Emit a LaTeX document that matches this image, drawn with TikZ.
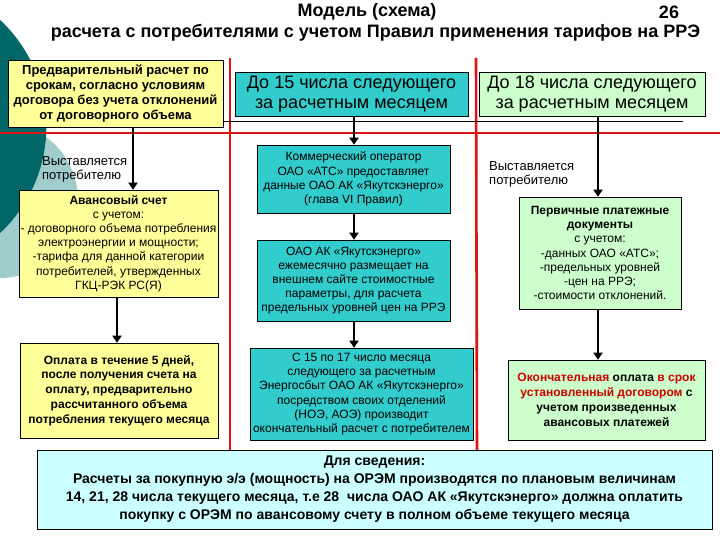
\documentclass[tikz,border=0pt]{standalone}
\usepackage{fontspec}
\setmainfont{Liberation Sans}
\usetikzlibrary{arrows.meta}
\definecolor{darkteal}{RGB}{0,102,102}
\definecolor{lightteal}{RGB}{160,204,204}
\definecolor{boxyellow}{RGB}{255,255,153}
\definecolor{boxteal}{RGB}{51,204,204}
\definecolor{boxgreen}{RGB}{204,255,204}
\definecolor{boxcyan}{RGB}{204,255,255}
\definecolor{linered}{RGB}{220,20,20}
\definecolor{textred}{RGB}{204,0,0}
\begin{document}
\begin{tikzpicture}[x=1pt,y=-1pt,
  box/.style={draw=black, line width=0.6pt, inner sep=0pt, align=center, anchor=center},
  ybox/.style={box, fill=boxyellow},
  tbox/.style={box, fill=boxteal},
  gbox/.style={box, fill=boxgreen},
  cbox/.style={box, fill=boxcyan},
  arr/.style={line width=2.6pt, -{Triangle[length=7pt,width=9pt]}},
  redline/.style={draw=linered, line width=2.6pt},
  small/.style={font=\fontsize{12}{14.2}\selectfont},
  smallb/.style={font=\fontsize{12}{14.8}\selectfont\bfseries},
  label/.style={font=\fontsize{13}{14}\selectfont, align=left, anchor=north west, inner sep=0pt},
  titlef/.style={inner sep=0pt, font=\fontsize{18}{20}\selectfont\bfseries}
]
\useasboundingbox (0,0) rectangle (720,540);
\fill[white] (0,0) rectangle (720,540);
% background circles
\begin{scope}
\clip (0,0) rectangle (720,540);
\fill[lightteal] (0,200) circle (78);
\fill[darkteal] (-99.7,126.5) circle (146);
\end{scope}
% title
\node[titlef] (t1) at (367,12) {Модель (схема)};
\node[titlef] (t26) at (669,12) {26};
\node[titlef] (t2) at (375.5,33) {расчета с потребителями с учетом Правил применения тарифов на РРЭ};
% red lines
\coordinate (rl1) at (0,133);
\coordinate (rl2) at (720,133);
\coordinate (rv1a) at (230,58);
\coordinate (rv1b) at (230,452);
\coordinate (rv2a) at (476,58);
\coordinate (rv2b) at (477,452);
\draw[redline] (rl1) -- (rl2);
\draw[redline] (rv1a) -- (rv1b);
\draw[redline] (rv2a) -- (rv2b);
% boxes
\node[ybox, minimum width=215, minimum height=67, font=\fontsize{13}{15}\selectfont\bfseries] (box1) at (115.5,93.5)
  {Предварительный расчет по\\срокам, согласно условиям\\договора без учета отклонений\\от договорного объема};
\coordinate (thinend) at (683,121);
\draw[line width=0.6pt] (box1.east |- thinend) -- (thinend);
\node[tbox, minimum width=233, minimum height=44, font=\fontsize{18}{20}\selectfont] (d15) at (351.5,94)
  {До 15 числа следующего\\за расчетным месяцем};
\node[gbox, minimum width=226, minimum height=44, font=\fontsize{18}{20}\selectfont] (d18) at (592,94)
  {До 18 числа следующего\\за расчетным месяцем};
\node[ybox, minimum width=199, minimum height=107, small] (avans) at (118.5,243.5)
  {\textbf{Авансовый счет}\\с учетом:\\- договорного объема потребления\\электроэнергии и мощности;\\-тарифа для данной категории\\потребителей, утвержденных\\ГКЦ-РЭК РС(Я)};
\node[ybox, minimum width=198, minimum height=95, smallb] (oplata) at (119,390.5)
  {Оплата в течение 5 дней,\\после получения счета на\\оплату, предварительно\\рассчитанного объема\\потребления текущего месяца};
\node[tbox, minimum width=193, minimum height=68, small] (komm) at (353.5,179)
  {Коммерческий оператор\\ОАО «АТС» предоставляет\\данные ОАО АК «Якутскэнерго»\\(глава VI Правил)};
\node[tbox, minimum width=193, minimum height=81, small] (oao) at (353.5,280.5)
  {ОАО АК «Якутскэнерго»\\ежемесячно размещает на\\внешнем сайте стоимостные\\параметры, для расчета\\предельных уровней цен на РРЭ};
\node[tbox, minimum width=223, minimum height=92, small] (c15) at (361.5,394)
  {С 15 по 17 число месяца\\следующего за расчетным\\Энергосбыт ОАО АК «Якутскэнерго»\\посредством своих отделений\\(НОЭ, АОЭ) производит\\окончательный расчет с потребителем};
\node[gbox, minimum width=162, minimum height=112, small] (perv) at (600,253)
  {\textbf{Первичные платежные}\\\textbf{документы}\\с учетом:\\-данных ОАО «АТС»;\\-предельных уровней\\-цен на РРЭ;\\-стоимости отклонений.};
\node[gbox, minimum width=197, minimum height=80, smallb] (okon) at (606.5,400)
  {\textcolor{textred}{Окончательная} оплата \textcolor{textred}{в срок}\\\textcolor{textred}{установленный договором} с\\учетом произведенных\\авансовых платежей};
\node[cbox, minimum width=675, minimum height=79, font=\fontsize{14}{18}\selectfont\bfseries] (info) at (374.5,489.5)
  {Для сведения:\\Расчеты за покупную э/э (мощность) на ОРЭМ производятся по плановым величинам\\14, 21, 28 числа текущего месяца, т.е 28~ числа ОАО АК «Якутскэнерго» должна оплатить\\покупку с ОРЭМ по авансовому счету в полном объеме текущего месяца};
% side labels
\node[label] (lab1) at (42,156) {Выставляется\\потребителю};
\node[label] (lab2) at (489,161) {Выставляется\\потребителю};
% arrows
\coordinate (xa) at (133,0);
\coordinate (xb) at (117,0);
\coordinate (xc) at (354,0);
\coordinate (xd) at (598,0);
\draw[arr] (box1.south -| xa) -- (avans.north -| xa);
\draw[arr] (avans.south -| xb) -- (oplata.north -| xb);
\draw[arr] (d15.south -| xc) -- (komm.north -| xc);
\draw[arr] (komm.south -| xc) -- (oao.north -| xc);
\draw[arr] (oao.south -| xc) -- (c15.north -| xc);
\draw[arr] (d18.south -| xd) -- (perv.north -| xd);
\draw[arr] (perv.south -| xd) -- (okon.north -| xd);
\end{tikzpicture}
\end{document}
